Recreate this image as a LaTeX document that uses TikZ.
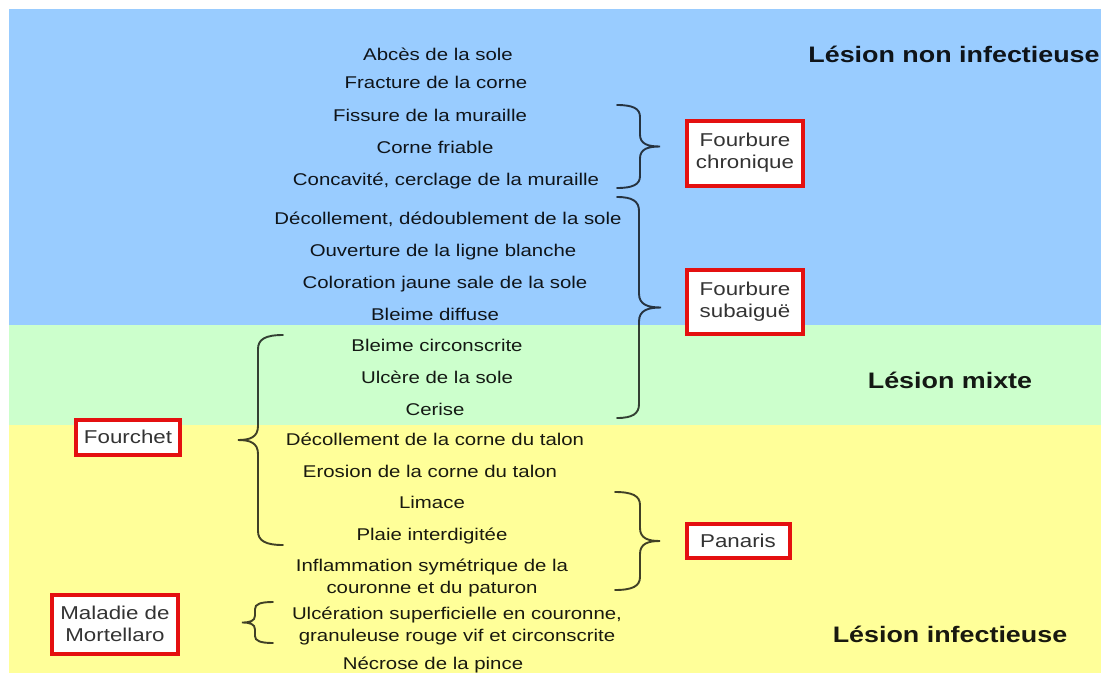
\documentclass[tikz,border=0pt]{standalone}
\usepackage{fontspec}
\setmainfont[FakeStretch=1.2]{Liberation Sans}
\definecolor{bandblue}{HTML}{99CCFF}
\definecolor{bandgreen}{HTML}{CCFFCC}
\definecolor{bandyellow}{HTML}{FFFF99}
\definecolor{boxred}{HTML}{E41010}
\tikzstyle{lesion}=[font=\fontsize{17}{22}\selectfont, text opacity=0.9, align=center, inner sep=0pt, text height=16pt, text depth=1pt]
\tikzstyle{twolines}=[lesion, text height=, text depth=]
\tikzstyle{cause}=[draw=boxred, line width=4pt, fill=white, align=center, font=\fontsize{18.6}{22}\selectfont, text opacity=0.8, inner sep=0pt]
\tikzstyle{category}=[font=\fontsize{22.4}{26}\selectfont\bfseries, text opacity=0.9, inner sep=0pt]
\tikzstyle{curly}=[line width=1.9pt, draw opacity=0.75, line cap=round]

% curly bracket: x, top y, bottom y, direction, spine offset, tip offset, curl
\newcommand{\drawcurly}[7]{%
  \draw[curly] (#1,#2)
    .. controls (#1+#4*0.7*#5,#2) and (#1+#4*#5,#2+0.3*#7) .. (#1+#4*#5,#2+#7)
    -- (#1+#4*#5,{(#2+#3)/2-#7})
    .. controls (#1+#4*#5,{(#2+#3)/2-0.2*#7}) and (#1+#4*#5+#4*0.4*#6,{(#2+#3)/2}) .. (#1+#4*#5+#4*#6,{(#2+#3)/2})
    .. controls (#1+#4*#5+#4*0.4*#6,{(#2+#3)/2}) and (#1+#4*#5,{(#2+#3)/2+0.2*#7}) .. (#1+#4*#5,{(#2+#3)/2+#7})
    -- (#1+#4*#5,#3-#7)
    .. controls (#1+#4*#5,#3-0.3*#7) and (#1+#4*0.7*#5,#3) .. (#1,#3);}

\begin{document}
\begin{tikzpicture}[x=1pt, y=-1pt]
      \useasboundingbox (0,0) rectangle (1106,673);

      % bands
      \fill[bandblue] (9,9) rectangle (1101,325);
      \fill[bandgreen] (9,325) rectangle (1101,425);
      \fill[bandyellow] (9,425) rectangle (1101,673);

      \node[category] (noninf) at (954,54) {Lésion non infectieuse};
      \node[category] (mixte) at (950,380) {Lésion mixte};
      \node[category] (infect) at (950,634) {Lésion infectieuse};

      % lesions
      \node[lesion] (abces) at (438,53) {Abcès de la sole};
      \node[lesion] (fracture) at (436,81) {Fracture de la corne};
      \node[lesion] (fissure) at (430,114) {Fissure de la muraille};
      \node[lesion] (friable) at (435,146) {Corne friable};
      \node[lesion] (concavite) at (446,178) {Concavité, cerclage de la muraille};
      \node[lesion] (decolsole) at (448,217) {Décollement, dédoublement de la sole};
      \node[lesion] (ouverture) at (443,249) {Ouverture de la ligne blanche};
      \node[lesion] (coloration) at (445,281) {Coloration jaune sale de la sole};
      \node[lesion] (bleimediff) at (435,313) {Bleime diffuse};
      \node[lesion] (bleimecirc) at (437,344) {Bleime circonscrite};
      \node[lesion] (ulcere) at (437,376) {Ulcère de la sole};
      \node[lesion] (cerise) at (435,408) {Cerise};
      \node[lesion] (decoltalon) at (435,438) {Décollement de la corne du talon};
      \node[lesion] (erosion) at (430,470) {Erosion de la corne du talon};
      \node[lesion] (limace) at (432,501) {Limace};
      \node[lesion] (plaie) at (432,533) {Plaie interdigitée};
      \node[twolines] (inflam) at (432,578) {Inflammation symétrique de la\\couronne et du paturon};
      \node[twolines] (ulceration) at (457,626) {Ulcération superficielle en couronne,\\granuleuse rouge vif et circonscrite};
      \node[lesion] (necrose) at (433,662) {Nécrose de la pince};

      % causes
      \node[cause, minimum width=116pt, minimum height=65pt] (chronique) at (745,153) {Fourbure\\chronique};
      \node[cause, minimum width=116pt, minimum height=64pt] (subaigue) at (745,302) {Fourbure\\subaiguë};
      \node[cause, minimum width=103pt, minimum height=34pt] (panaris) at (738,541) {Panaris};
      \node[cause, minimum width=104pt, minimum height=35pt] (fourchet) at (128,437) {Fourchet};
      \node[cause, minimum width=126pt, minimum height=59pt] (mortellaro) at (115,624) {Maladie de\\Mortellaro};

      % brackets
      \drawcurly{617}{105}{188}{1}{23}{20}{12}
      \drawcurly{617}{197}{418}{1}{22}{22}{14}
      \drawcurly{615}{492}{590}{1}{25}{20}{13}
      \drawcurly{283}{335}{545}{-1}{25}{20}{14}
      \drawcurly{273}{602}{643}{-1}{18}{13}{7}
\end{tikzpicture}
\end{document}
